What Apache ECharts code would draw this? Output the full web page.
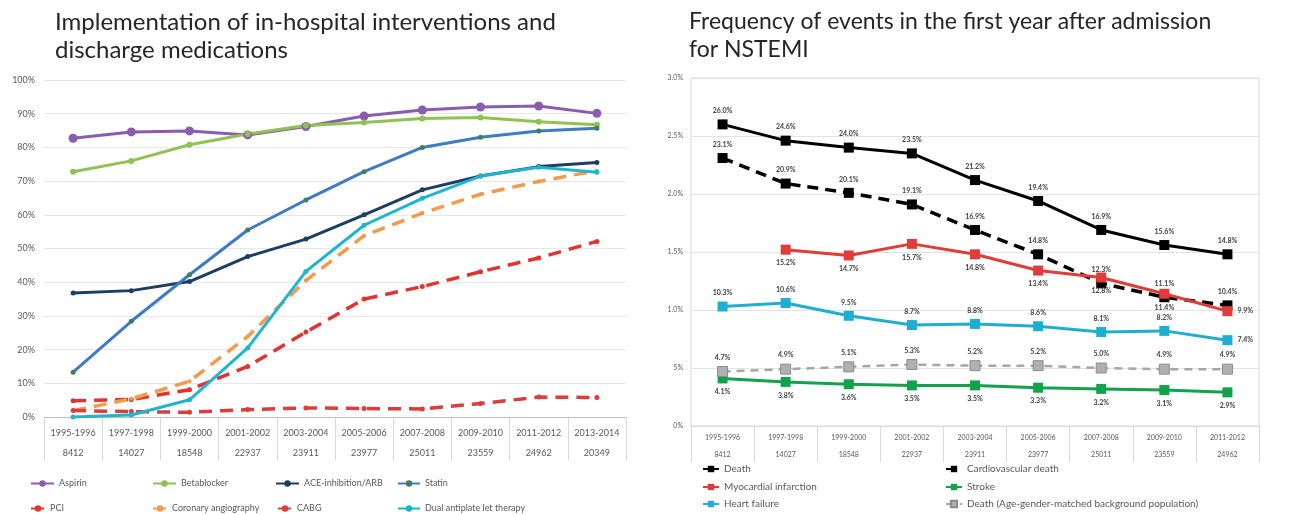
<!DOCTYPE html>
<html>
<head>
<meta charset="utf-8">
<script src="https://cdn.jsdelivr.net/npm/echarts@6/dist/echarts.min.js"></script>
<style>html,body{margin:0;padding:0;background:#fff;}#c{width:1300px;height:515px;}</style>
</head>
<body>
<div id="c"></div>
<script>
// ---------- Left chart data ----------
var leftCategories = ['1995-1996','1997-1998','1999-2000','2001-2002','2003-2004','2005-2006','2007-2008','2009-2010','2011-2012','2013-2014'];
var leftN = ['8412','14027','18548','22937','23911','23977','25011','23559','24962','20349'];
var leftYTicks = ['0%','10%','20%','30%','40%','50%','60%','70%','80%','90%','100%'];
var aspirin = [82.7, 84.6, 84.9, 83.7, 86.2, 89.3, 91.1, 92.0, 92.3, 90.1];
var betablocker = [72.8, 76.0, 80.8, 84.0, 86.5, 87.4, 88.6, 88.9, 87.6, 86.7];
var aceArb = [36.8, 37.5, 40.2, 47.6, 52.8, 60.0, 67.4, 71.5, 74.3, 75.5];
var statin = [13.3, 28.4, 42.2, 55.5, 64.4, 72.8, 80.0, 83.0, 84.9, 85.7];
var pci = [4.8, 5.2, 8.1, 15.0, 25.2, 35.0, 38.7, 43.1, 47.2, 52.1];
var coronary = [1.9, 5.4, 10.6, 23.9, 40.5, 53.8, 60.5, 66.1, 69.9, 73.1];
var cabg = [1.9, 1.6, 1.4, 2.2, 2.7, 2.5, 2.4, 4.0, 5.9, 5.8];
var dapt = [0.0, 0.6, 5.1, 20.5, 43.2, 56.9, 64.9, 71.5, 74.1, 72.6];

// ---------- Right chart data ----------
var rightCategories = ['1995-1996','1997-1998','1999-2000','2001-2002','2003-2004','2005-2006','2007-2008','2009-2010','2011-2012'];
var rightN = ['8412','14027','18548','22937','23911','23977','25011','23559','24962'];
var rightYTicks = ['0%','5%','1.0%','1.5%','2.0%','2.5%','3.0%'];
var death = [26.0, 24.6, 24.0, 23.5, 21.2, 19.4, 16.9, 15.6, 14.8];
var cvDeath = [23.1, 20.9, 20.1, 19.1, 16.9, 14.8, 12.3, 11.1, 10.4];
var mi = ['-', 15.2, 14.7, 15.7, 14.8, 13.4, 12.8, 11.4, 9.9];
var stroke = [4.1, 3.8, 3.6, 3.5, 3.5, 3.3, 3.2, 3.1, 2.9];
var heartFailure = [10.3, 10.6, 9.5, 8.7, 8.8, 8.6, 8.1, 8.2, 7.4];
var bgDeath = [4.7, 4.9, 5.1, 5.3, 5.2, 5.2, 5.0, 4.9, 4.9];

var chart = echarts.init(document.getElementById('c'));
var FONT = 'Lato, "Open Sans", sans-serif';

function lineSeries(name, data, color, opts) {
  opts = opts || {};
  return {
    name: name, type: 'line', data: data,
    xAxisIndex: opts.ax || 0, yAxisIndex: opts.ax || 0,
    symbol: opts.symbol || 'circle', symbolSize: opts.size || 5,
    itemStyle: { color: opts.markColor || color, borderColor: opts.borderColor || (opts.markColor || color), borderWidth: opts.borderWidth || 0 },
    lineStyle: { color: color, width: opts.width || 3, type: opts.dash || 'solid' },
    label: opts.label || { show: false },
    z: opts.z || 2,
    animation: false
  };
}

function rLabel(pos) {
  return {
    show: true, position: pos, distance: 5,
    fontSize: 7, fontWeight: 'bold', color: '#404040', fontFamily: FONT,
    formatter: function (p) { return (typeof p.value === 'number') ? p.value.toFixed(1) + '%' : ''; }
  };
}

function withLast(data, pos) {
  return data.map(function (v, i) {
    if (i === data.length - 1) return { value: v, label: { position: pos } };
    return v;
  });
}

function legendAt(name, left, top, w, h, fs) {
  return {
    data: [name], left: left, top: top, padding: 0,
    itemWidth: w, itemHeight: h || 8, itemGap: 0,
    textStyle: { fontSize: fs || 9, color: '#595959', fontFamily: FONT },
    selectedMode: false
  };
}

var option = {
  backgroundColor: '#fff',
  textStyle: { fontFamily: FONT },
  title: [
    { text: 'Implementation of in-hospital interventions and\ndischarge medications', left: 50, top: 3,
      textStyle: { fontSize: 24, fontWeight: 'normal', color: '#262626', lineHeight: 28, fontFamily: FONT } },
    { text: 'Frequency of events in the first year after admission\nfor NSTEMI', left: 684, top: 3,
      textStyle: { fontSize: 23, fontWeight: 'normal', color: '#262626', lineHeight: 28, fontFamily: FONT } }
  ],
  legend: [
    legendAt('Aspirin', 30, 479, 23),
    legendAt('Betablocker', 152, 479, 23),
    legendAt('ACE-inhibition/ARB', 275, 479, 23),
    legendAt('Statin', 397, 479, 22),
    legendAt('PCI', 30, 504, 14),
    legendAt('Coronary angiography', 152, 504, 14),
    legendAt('CABG', 277, 504, 14),
    legendAt('Dual antiplate let therapy', 397, 504, 22),
    legendAt('Death', 702, 464, 16, 8, 10),
    legendAt('Myocardial infarction', 702, 482, 16, 8, 10),
    legendAt('Heart failure', 702, 499, 16, 8, 10),
    legendAt('Cardiovascular death', 945, 464, 16, 8, 10),
    legendAt('Stroke', 945, 482, 16, 8, 10),
    legendAt('Death (Age-gender-matched background population)', 945, 499, 16, 8, 10)
  ],
  grid: [
    { left: 44, right: 674, top: 80, bottom: 98 },
    { left: 691, right: 41, top: 78, bottom: 89, show: true, borderColor: '#d9d9d9', borderWidth: 1 }
  ],
  xAxis: [
    { type: 'category', gridIndex: 0, data: leftCategories, boundaryGap: true,
      axisLine: { lineStyle: { color: '#bfbfbf', width: 1 } },
      axisTick: { show: true, length: 43, interval: 0, lineStyle: { color: '#d9d9d9' } },
      axisLabel: { interval: 0, margin: 6, fontSize: 9, color: '#595959', lineHeight: 20,
        formatter: function (v, i) { return v + '\n' + leftN[i]; } } },
    { type: 'category', gridIndex: 1, data: rightCategories, boundaryGap: true,
      axisLine: { lineStyle: { color: '#d9d9d9', width: 1 } },
      axisTick: { show: true, length: 36, interval: 0, lineStyle: { color: '#d9d9d9' } },
      axisLabel: { interval: 0, margin: 3, fontSize: 7, color: '#595959', lineHeight: 17,
        formatter: function (v, i) { return v + '\n' + rightN[i]; } } }
  ],
  yAxis: [
    { type: 'value', gridIndex: 0, min: 0, max: 100, interval: 10,
      axisLine: { show: false }, axisTick: { show: false },
      splitLine: { lineStyle: { color: '#e8e8e8', width: 1 } },
      axisLabel: { fontSize: 9, color: '#595959', margin: 9,
        formatter: function (v) { return leftYTicks[Math.round(v / 10)]; } } },
    { type: 'value', gridIndex: 1, min: 0, max: 30, interval: 5,
      axisLine: { show: false }, axisTick: { show: false },
      splitLine: { lineStyle: { color: '#e3e3e3', width: 1 } },
      axisLabel: { fontSize: 7, color: '#595959', margin: 8,
        formatter: function (v) { return rightYTicks[Math.round(v / 5)]; } } }
  ],
  series: [
    lineSeries('Aspirin', aspirin, '#8a5cb0', { size: 9 }),
    lineSeries('Betablocker', betablocker, '#8fc253', { size: 6 }),
    lineSeries('ACE-inhibition/ARB', aceArb, '#1d3d63', { size: 5 }),
    lineSeries('Statin', statin, '#3b7cc4', { size: 5, markColor: '#3f7f5a' }),
    lineSeries('PCI', pci, '#e2332f', { size: 5, dash: [13, 8], width: 3.5 }),
    lineSeries('Coronary angiography', coronary, '#f5994a', { size: 4, dash: [13, 8], width: 3.5 }),
    lineSeries('CABG', cabg, '#dc3c3a', { size: 5, dash: [13, 8], width: 3.5 }),
    lineSeries('Dual antiplate let therapy', dapt, '#1fb4d0', { size: 5 }),

    lineSeries('Death', death, '#000000', { ax: 1, symbol: 'rect', size: 10, label: rLabel('top'), z: 5 }),
    lineSeries('Cardiovascular death', cvDeath, '#000000', { ax: 1, symbol: 'rect', size: 10, dash: [11, 7], width: 3.5, label: rLabel('top'), z: 4 }),
    lineSeries('Myocardial infarction', withLast(mi, 'right'), '#e23b3b', { ax: 1, symbol: 'rect', size: 10, label: rLabel('bottom'), z: 6 }),
    lineSeries('Stroke', stroke, '#12a24c', { ax: 1, symbol: 'rect', size: 10, label: rLabel('bottom'), z: 3 }),
    lineSeries('Heart failure', withLast(heartFailure, 'right'), '#1eaed3', { ax: 1, symbol: 'rect', size: 10, label: rLabel('top'), z: 3 }),
    lineSeries('Death (Age-gender-matched background population)', bgDeath, '#a6a6a6', { ax: 1, symbol: 'rect', size: 10, dash: [8, 6], width: 2.5, markColor: '#b0b0b0', borderColor: '#8c8c8c', borderWidth: 1, label: rLabel('top'), z: 3 })
  ]
};
chart.setOption(option);
</script>
</body>
</html>
